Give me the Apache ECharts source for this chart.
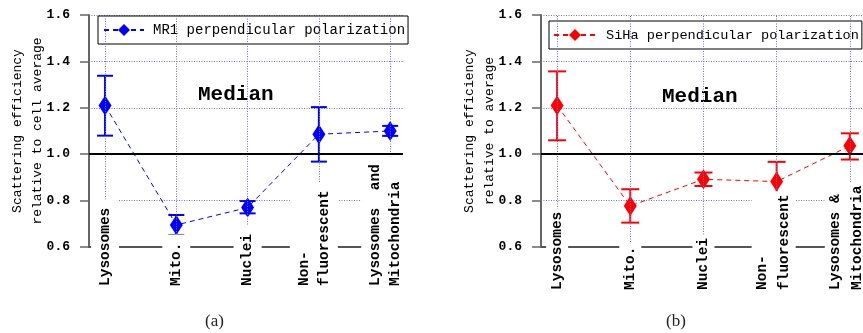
<!DOCTYPE html>
<html>
<head>
<meta charset="utf-8">
<script src="https://cdn.jsdelivr.net/npm/echarts@6/dist/echarts.min.js"></script>
<style>
	html, body { margin: 0; padding: 0; background: #fff; }
	#chart { width: 863px; height: 333px; }
</style>
</head>
<body>
<div id="chart"></div>
<script>
var catPos = [1, 2, 3, 4, 5];
var labelsA = ['Lysosomes', 'Mito.', 'Nuclei', 'Non-\nfluorescent', 'Lysosomes  and\nMitochondria'];
var labelsB = ['Lysosomes', 'Mito.', 'Nuclei', 'Non-\nfluorescent', 'Lysosomes &\nMitochondria'];

// panel (a) MR1
var mr1Median = [1.21, 0.695, 0.77, 1.086, 1.10];
var mr1Low = [1.08, 0.652, 0.745, 0.968, 1.079];
var mr1High = [1.338, 0.738, 0.798, 1.203, 1.122];

// panel (b) SiHa
var sihaMedian = [1.21, 0.777, 0.892, 0.882, 1.036];
var sihaLow = [1.06, 0.705, 0.863, 0.798, 0.977];
var sihaHigh = [1.357, 0.849, 0.921, 0.967, 1.09];

var yMin = 0.6, yMax = 1.6, yStep = 0.2;
var nameA = 'MR1 perpendicular polarization';
var nameB = 'SiHa perpendicular polarization';

var mono = '"Liberation Mono", "DejaVu Sans Mono", monospace';
var gridBlue = '#6a6aff';

var chart = echarts.init(document.getElementById('chart'));

function pairs(xs, ys) {
	return xs.map(function (x, i) { return [x, ys[i]]; });
}
function triples(xs, lo, hi) {
	return xs.map(function (x, i) { return [x, lo[i], hi[i]]; });
}

function errorBarRender(color, half) {
	return function (params, api) {
		var x = api.value(0);
		var lo = api.coord([x, api.value(1)]);
		var hi = api.coord([x, api.value(2)]);
		var style = { stroke: color, lineWidth: 2 };
		return {
			type: 'group',
			children: [
				{ type: 'line', shape: { x1: lo[0], y1: lo[1], x2: hi[0], y2: hi[1] }, style: style },
				{ type: 'line', shape: { x1: hi[0] - half, y1: hi[1], x2: hi[0] + half, y2: hi[1] }, style: style },
				{ type: 'line', shape: { x1: lo[0] - half, y1: lo[1], x2: lo[0] + half, y2: lo[1] }, style: style }
			]
		};
	};
}

function labelRender(labels, drop, pad, lineH, multiShift) {
	return function (params, api) {
		var p = api.coord([api.value(0), yMin]);
		var txt = labels[params.dataIndex];
		var shift = txt.indexOf('\n') >= 0 ? multiShift : 0;
		return {
			type: 'text',
			x: p[0] + shift,
			y: p[1] + drop,
			rotation: Math.PI / 2,
			style: {
				text: txt,
				font: 'bold 14.5px ' + mono,
				fill: '#000',
				align: 'left',
				verticalAlign: 'middle',
				lineHeight: lineH,
				backgroundColor: '#fff',
				padding: pad
			}
		};
	};
}

function xAxisOf(idx) {
	return {
		type: 'value',
		gridIndex: idx,
		min: idx === 0 ? 0.775 : 0.78,
		max: 5.18,
		axisLine: { show: true, onZero: false, lineStyle: { color: '#555', width: 2 } },
		axisTick: { show: false },
		axisLabel: { show: false },
		splitLine: { show: false }
	};
}

function yAxisOf(idx, title) {
	return {
		type: 'value',
		gridIndex: idx,
		min: yMin,
		max: yMax,
		interval: yStep,
		name: title,
		nameLocation: 'middle',
		nameRotate: 90,
		nameGap: 41,
		nameMoveOverlap: false,
		nameTextStyle: { fontFamily: mono, fontSize: 13, lineHeight: 20, color: '#000' },
		axisLine: { show: true, lineStyle: { color: '#666', width: 2 } },
		axisTick: { show: true, length: 9, lineStyle: { color: '#666', width: 1.5 } },
		axisLabel: {
			margin: 19,
			color: '#000',
			fontFamily: mono,
			fontWeight: 'bold',
			fontSize: 13,
			formatter: function (v) { return v.toFixed(1); }
		},
		splitLine: { show: true, lineStyle: { color: gridBlue, width: 1, type: [1, 1.5] } }
	};
}

function guideSeries(idx) {
	// vertical dotted guides at each category + the solid 1.0 reference line
	var lines = catPos.map(function (v) {
		return { xAxis: v, lineStyle: { color: gridBlue, width: 1, type: [1, 1.5] } };
	});
	lines.push({ yAxis: 1.0, lineStyle: { color: '#000', width: 2, type: 'solid' } });
	return {
		type: 'line',
		xAxisIndex: idx,
		yAxisIndex: idx,
		data: [],
		z: 1,
		silent: true,
		markLine: { silent: true, symbol: 'none', label: { show: false }, animation: false, data: lines }
	};
}

var option = {
	animation: false,
	backgroundColor: '#fff',
	grid: [
		{ left: 89, top: 15, width: 314, height: 232 },
		{ left: 541, top: 15, width: 324, height: 232 }
	],
	xAxis: [xAxisOf(0), xAxisOf(1)],
	yAxis: [
		yAxisOf(0, 'Scattering efficiency\nrelative to cell average'),
		yAxisOf(1, 'Scattering efficiency\nrelative to average')
	],
	legend: [
		{
			data: [nameA],
			left: 98, top: 16,
			backgroundColor: '#fff',
			borderColor: '#000', borderWidth: 1, borderRadius: 0,
			padding: [7, 3, 7, 5],
			itemWidth: 40, itemHeight: 15,
			textStyle: { fontFamily: mono, fontSize: 14, color: '#000', padding: [0, 0, 0, 4] }
		},
		{
			data: [nameB],
			left: 549, top: 21,
			backgroundColor: '#fff',
			borderColor: '#000', borderWidth: 1, borderRadius: 0,
			padding: [7, 3, 7, 4],
			itemWidth: 42, itemHeight: 15,
			textStyle: { fontFamily: mono, fontSize: 13.6, color: '#000', padding: [0, 0, 0, 5] }
		}
	],
	graphic: [
		{ type: 'text', left: 198, top: 84, style: { text: 'Median', font: 'bold 21px ' + mono, fill: '#000' } },
		{ type: 'text', left: 662, top: 86, style: { text: 'Median', font: 'bold 21px ' + mono, fill: '#000' } },
		{ type: 'text', left: 205, top: 313, style: { text: '(a)', font: '17px "Liberation Serif", serif', fill: '#222' } },
		{ type: 'text', left: 666, top: 313, style: { text: '(b)', font: '17px "Liberation Serif", serif', fill: '#222' } }
	],
	series: [
		guideSeries(0),
		guideSeries(1),
		{
			type: 'custom',
			name: 'mr1Err',
			xAxisIndex: 0, yAxisIndex: 0,
			z: 3,
			clip: false,
			renderItem: errorBarRender('#0000ff', 8),
			encode: { x: 0, y: [1, 2] },
			data: triples(catPos, mr1Low, mr1High)
		},
		{
			type: 'custom',
			name: 'sihaErr',
			xAxisIndex: 1, yAxisIndex: 1,
			z: 3,
			clip: false,
			renderItem: errorBarRender('#ff0000', 9),
			encode: { x: 0, y: [1, 2] },
			data: triples(catPos, sihaLow, sihaHigh)
		},
		{
			type: 'line',
			name: nameA,
			xAxisIndex: 0, yAxisIndex: 0,
			z: 4,
			symbol: 'diamond',
			symbolSize: [13, 20],
			itemStyle: { color: '#0000ff' },
			lineStyle: { color: '#0000ff', width: 1, type: [5, 4] },
			data: pairs(catPos, mr1Median)
		},
		{
			type: 'line',
			name: nameB,
			xAxisIndex: 1, yAxisIndex: 1,
			z: 4,
			symbol: 'diamond',
			symbolSize: [13, 20],
			itemStyle: { color: '#ff0000' },
			lineStyle: { color: '#ff0000', width: 1, type: [5, 4] },
			data: pairs(catPos, sihaMedian)
		},
		{
			type: 'custom',
			name: 'labelsA',
			xAxisIndex: 0, yAxisIndex: 0,
			z: 10,
			clip: false,
			silent: true,
			renderItem: labelRender(labelsA, 41, [4, 8, 4, 2], 20, -5),
			data: pairs(catPos, catPos.map(function () { return yMin; }))
		},
		{
			type: 'custom',
			name: 'labelsB',
			xAxisIndex: 1, yAxisIndex: 1,
			z: 10,
			clip: false,
			silent: true,
			renderItem: labelRender(labelsB, 45, [0, 3, 0, 2], 22, -3),
			data: pairs(catPos, catPos.map(function () { return yMin; }))
		}
	]
};

chart.setOption(option);
</script>
</body>
</html>
